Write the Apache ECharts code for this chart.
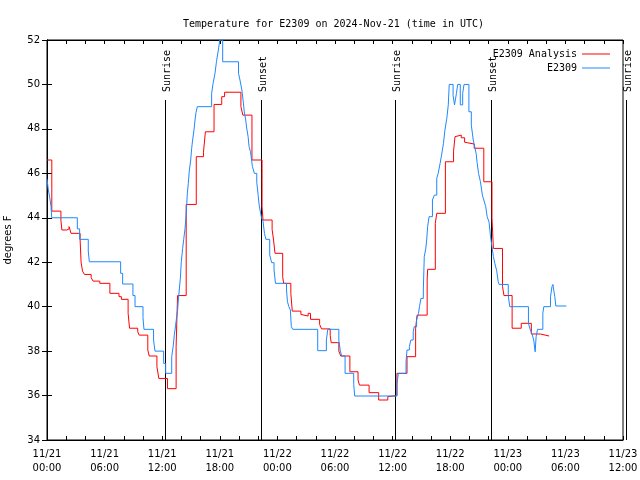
<!DOCTYPE html>
<html>
<head>
<meta charset="utf-8">
<script src="https://cdn.jsdelivr.net/npm/echarts@6/dist/echarts.min.js"></script>
<style>html,body{margin:0;padding:0;background:#fff}#c{width:640px;height:480px}</style>
</head>
<body>
<div id="c"></div>
<script>
// Hours since 2024-11-21 00:00 UTC
const analysisHours = [0, 0.5, 1.45, 1.55, 2.05, 2.3, 2.5, 3.45, 3.55, 3.7, 3.9, 4.6, 4.8, 5.5, 6.55, 7.5, 7.75, 8.45, 8.6, 9.45, 9.6, 10.5, 10.65, 11.45, 11.65, 12.55, 13.45, 13.6, 14.5, 15.55, 16.3, 16.5, 17.4, 18.2, 18.5, 20.2, 20.4, 21.35, 22.4, 22.5, 23.45, 23.6, 23.75, 24.55, 24.65, 25.4, 25.55, 26.45, 26.6, 27.2, 27.45, 28.4, 28.6, 29.5, 29.6, 30.4, 30.6, 31.55, 32.4, 32.55, 33.55, 34.55, 35.5, 35.65, 36.45, 37.5, 38.4, 38.55, 39.6, 39.65, 40.45, 40.6, 41.5, 42.35, 42.5, 42.7, 43.15, 43.5, 43.65, 44.5, 45.5, 46.35, 46.5, 47.45, 47.6, 48.45, 49.4, 50.45, 51.4, 52.3];
const analysisTemps = [46.6, 44.3, 43.9, 43.45, 43.5, 43.6, 43.3, 43.0, 42.0, 41.6, 41.45, 41.3, 41.15, 41.05, 40.6, 40.45, 40.33, 39.7, 39.03, 38.87, 38.72, 38.05, 37.78, 37.3, 36.77, 36.31, 38.2, 40.5, 44.6, 46.75, 46.95, 47.87, 49.1, 49.45, 49.65, 49.0, 48.62, 46.6, 44.5, 43.9, 43.48, 43.0, 42.4, 41.35, 41.05, 40.6, 39.8, 39.65, 39.58, 39.7, 39.43, 39.2, 39.0, 38.7, 38.38, 38.0, 37.78, 37.07, 36.7, 36.47, 36.13, 35.8, 35.95, 36.0, 37.0, 37.75, 39.03, 39.62, 41.2, 41.68, 43.75, 44.2, 46.52, 47.0, 47.65, 47.72, 47.6, 47.4, 47.32, 47.13, 45.62, 44.0, 42.62, 40.9, 40.5, 39.03, 39.25, 38.77, 38.68, 38.68];

const obsHours = [0, 0.14, 0.3, 0.42, 0.49, 3.16, 3.4, 4.3, 4.41, 7.67, 7.88, 8.95, 9.17, 10.0, 10.1, 11.1, 11.25, 12.15, 12.36, 12.99, 13.16, 13.26, 13.4, 13.51, 13.61, 13.68, 13.78, 13.89, 13.99, 14.13, 14.24, 14.38, 14.48, 14.55, 14.62, 14.72, 14.83, 14.97, 15.07, 15.17, 15.31, 15.42, 15.52, 15.66, 17.15, 17.3, 17.5, 17.65, 17.85, 18.0, 18.3, 19.95, 20.1, 20.3, 20.45, 20.55, 20.7, 20.8, 20.95, 21.05, 21.2, 21.4, 21.6, 21.85, 22.0, 22.1, 22.25, 22.35, 22.5, 22.65, 22.8, 23.2, 23.4, 23.65, 23.8, 24.95, 25.05, 25.2, 25.35, 25.45, 25.6, 28.2, 29.1, 29.25, 30.4, 30.55, 30.7, 31.05, 31.95, 32.05, 36.45, 36.6, 37.4, 37.5, 37.75, 37.9, 38.15, 38.25, 38.5, 38.7, 38.8, 38.95, 39.2, 39.3, 39.45, 39.55, 39.65, 39.8, 40.15, 40.35, 40.6, 40.75, 40.95, 41.1, 41.3, 41.45, 41.65, 41.8, 41.9, 42.3, 42.45, 42.65, 42.78, 43.05, 43.3, 43.44, 43.95, 44.2, 44.4, 44.55, 44.7, 44.8, 44.95, 45.15, 45.35, 45.5, 45.7, 45.85, 46.05, 46.2, 46.35, 46.5, 46.65, 46.85, 47.0, 47.1, 48.05, 48.2, 50.15, 50.35, 50.5, 50.7, 50.85, 50.95, 51.1, 51.65, 51.75, 52.45, 52.6, 52.7, 52.8, 52.9, 53.0, 54.1];
const obsTemps = [45.75, 45.25, 44.88, 44.5, 44.0, 43.5, 43.03, 42.5, 42.02, 41.5, 41.02, 40.5, 40.0, 39.5, 38.98, 38.5, 38.0, 37.45, 37.0, 37.75, 38.27, 38.72, 39.17, 39.55, 39.85, 40.3, 40.75, 41.28, 42.02, 42.62, 43.03, 43.52, 44.05, 44.57, 45.1, 45.55, 46.15, 46.6, 47.13, 47.5, 47.95, 48.4, 48.73, 49.0, 49.6, 50.05, 50.5, 51.02, 51.55, 52.0, 51.02, 50.5, 50.2, 49.75, 49.2, 48.77, 48.4, 48.04, 47.65, 47.2, 46.97, 46.3, 46.0, 45.6, 45.0, 44.57, 44.2, 44.0, 43.85, 43.3, 43.03, 42.33, 41.98, 41.65, 41.05, 40.75, 40.22, 40.0, 39.85, 39.1, 38.98, 38.02, 38.5, 38.98, 38.5, 38.02, 37.78, 37.0, 36.5, 35.98, 36.5, 37.0, 37.53, 38.05, 38.2, 38.5, 38.87, 39.1, 39.4, 39.7, 40.0, 40.37, 40.75, 42.25, 42.6, 43.0, 43.6, 44.05, 44.8, 45.02, 45.78, 46.0, 46.45, 46.82, 47.35, 47.95, 48.48, 49.08, 50.0, 49.5, 49.08, 49.6, 50.0, 49.08, 49.6, 50.0, 48.77, 48.17, 47.5, 47.2, 46.9, 46.5, 46.0, 45.62, 45.02, 44.8, 44.5, 44.05, 43.8, 43.15, 42.7, 42.25, 41.95, 41.6, 41.12, 41.0, 40.5, 40.0, 39.25, 38.95, 38.8, 38.5, 37.97, 38.65, 38.98, 39.7, 40.0, 40.45, 40.9, 41.0, 40.7, 40.45, 40.03, 40.03];

const sunHours = [12.29, 22.3, 36.3, 46.27, 60.3];
const sunLabels = ['Sunrise', 'Sunset', 'Sunrise', 'Sunset', 'Sunrise'];

const xTickLabels = ['11/21\n00:00', '11/21\n06:00', '11/21\n12:00', '11/21\n18:00', '11/22\n00:00', '11/22\n06:00', '11/22\n12:00', '11/22\n18:00', '11/23\n00:00', '11/23\n06:00', '11/23\n12:00'];
const yTicks = [34, 36, 38, 40, 42, 44, 46, 48, 50, 52];

const seriesNames = ['E2309 Analysis', 'E2309'];
const seriesColors = ['#ff0000', '#1e88ff'];
const titleText = 'Temperature for E2309 on 2024-Nov-21 (time in UTC)';

const MONO = '"DejaVu Sans Mono", monospace';
const SANS = '"DejaVu Sans", sans-serif';
const yMin = yTicks[0], yMax = yTicks[yTicks.length - 1];

function zip(a, b) { return a.map((v, i) => [v, b[i]]); }

const chart = echarts.init(document.getElementById('c'), null, {renderer: 'canvas'});
const tickLine = {color: '#000', width: 1};
function legendFor(i, top) {
  return {data: [{name: seriesNames[i], icon: 'rect', itemStyle: {color: seriesColors[i]}}],
    right: 25, top: top, align: 'right', itemWidth: 28, itemHeight: 1,
    textStyle: {fontFamily: MONO, fontSize: 10, color: '#000'}};
}
chart.setOption({
  animation: false,
  backgroundColor: '#fff',
  title: {
    text: titleText, left: 178, top: 14,
    textStyle: {fontFamily: MONO, fontSize: 10, fontWeight: 'normal', color: '#000'}
  },
  grid: {left: 47, right: 17, top: 40, bottom: 40, show: true, borderColor: '#000', borderWidth: 1,
         containLabel: false, outerBoundsMode: 'none'},
  legend: [legendFor(0, 44), legendFor(1, 58)],
  xAxis: [
    {type: 'value', min: 0, max: 60, interval: 6, position: 'bottom',
     axisLine: {show: true, lineStyle: tickLine},
     axisTick: {show: true, inside: true, length: 4, lineStyle: tickLine},
     minorTick: {show: true, splitNumber: 3, length: 4, lineStyle: tickLine},
     splitLine: {show: false},
     axisLabel: {margin: 7, fontFamily: SANS, fontSize: 10, color: '#000', lineHeight: 14,
       formatter: v => xTickLabels[Math.round(v / 6)] || ''}},
    {type: 'value', min: 0, max: 60, interval: 6, position: 'top',
     axisLine: {show: true, lineStyle: tickLine},
     axisTick: {show: true, inside: true, length: 4, lineStyle: tickLine},
     minorTick: {show: true, splitNumber: 3, length: 4, lineStyle: tickLine},
     splitLine: {show: false}, axisLabel: {show: false}}
  ],
  yAxis: [
    {type: 'value', min: yMin, max: yMax, interval: 2, position: 'left',
     name: 'degrees F', nameLocation: 'middle', nameGap: 34, nameRotate: 90,
     nameTextStyle: {fontFamily: SANS, fontSize: 10, color: '#000'},
     axisLine: {show: true, lineStyle: tickLine},
     axisTick: {show: true, inside: true, length: 5, lineStyle: tickLine},
     splitLine: {show: false},
     axisLabel: {margin: 7, fontFamily: SANS, fontSize: 10, color: '#000'}},
    {type: 'value', min: yMin, max: yMax, interval: 2, position: 'right',
     axisLine: {show: true, lineStyle: tickLine},
     axisTick: {show: true, inside: true, length: 5, lineStyle: tickLine},
     splitLine: {show: false}, axisLabel: {show: false}}
  ],
  series: [
    {name: seriesNames[0], type: 'line', step: 'end', symbol: 'none', data: zip(analysisHours, analysisTemps),
     lineStyle: {color: seriesColors[0], width: 1}, itemStyle: {color: seriesColors[0]}},
    {name: seriesNames[1], type: 'line', step: 'end', symbol: 'none', data: zip(obsHours, obsTemps),
     lineStyle: {color: seriesColors[1], width: 1}, itemStyle: {color: seriesColors[1]}},
    {name: 'sun', type: 'custom', clip: false, silent: true,
     encode: {x: 0, y: 1},
     data: sunHours.map(h => [h, yMin]),
     renderItem: function (params, api) {
       const t = api.value(0);
       const b = api.coord([t, yMin]);
       const tp = api.coord([t, yMax]);
       const x = Math.round(b[0]) + 0.5;
       return {type: 'group', children: [
         {type: 'line', shape: {x1: x, y1: tp[1] + 60, x2: x, y2: b[1]},
          style: {stroke: '#000', lineWidth: 1}},
         {type: 'text', x: x + 2, y: tp[1] + 52, rotation: Math.PI / 2,
          style: {text: sunLabels[params.dataIndex], align: 'left', verticalAlign: 'middle',
                  font: '10px ' + MONO, fill: '#000'}}
       ]};
     }}
  ]
});
</script>
</body>
</html>
